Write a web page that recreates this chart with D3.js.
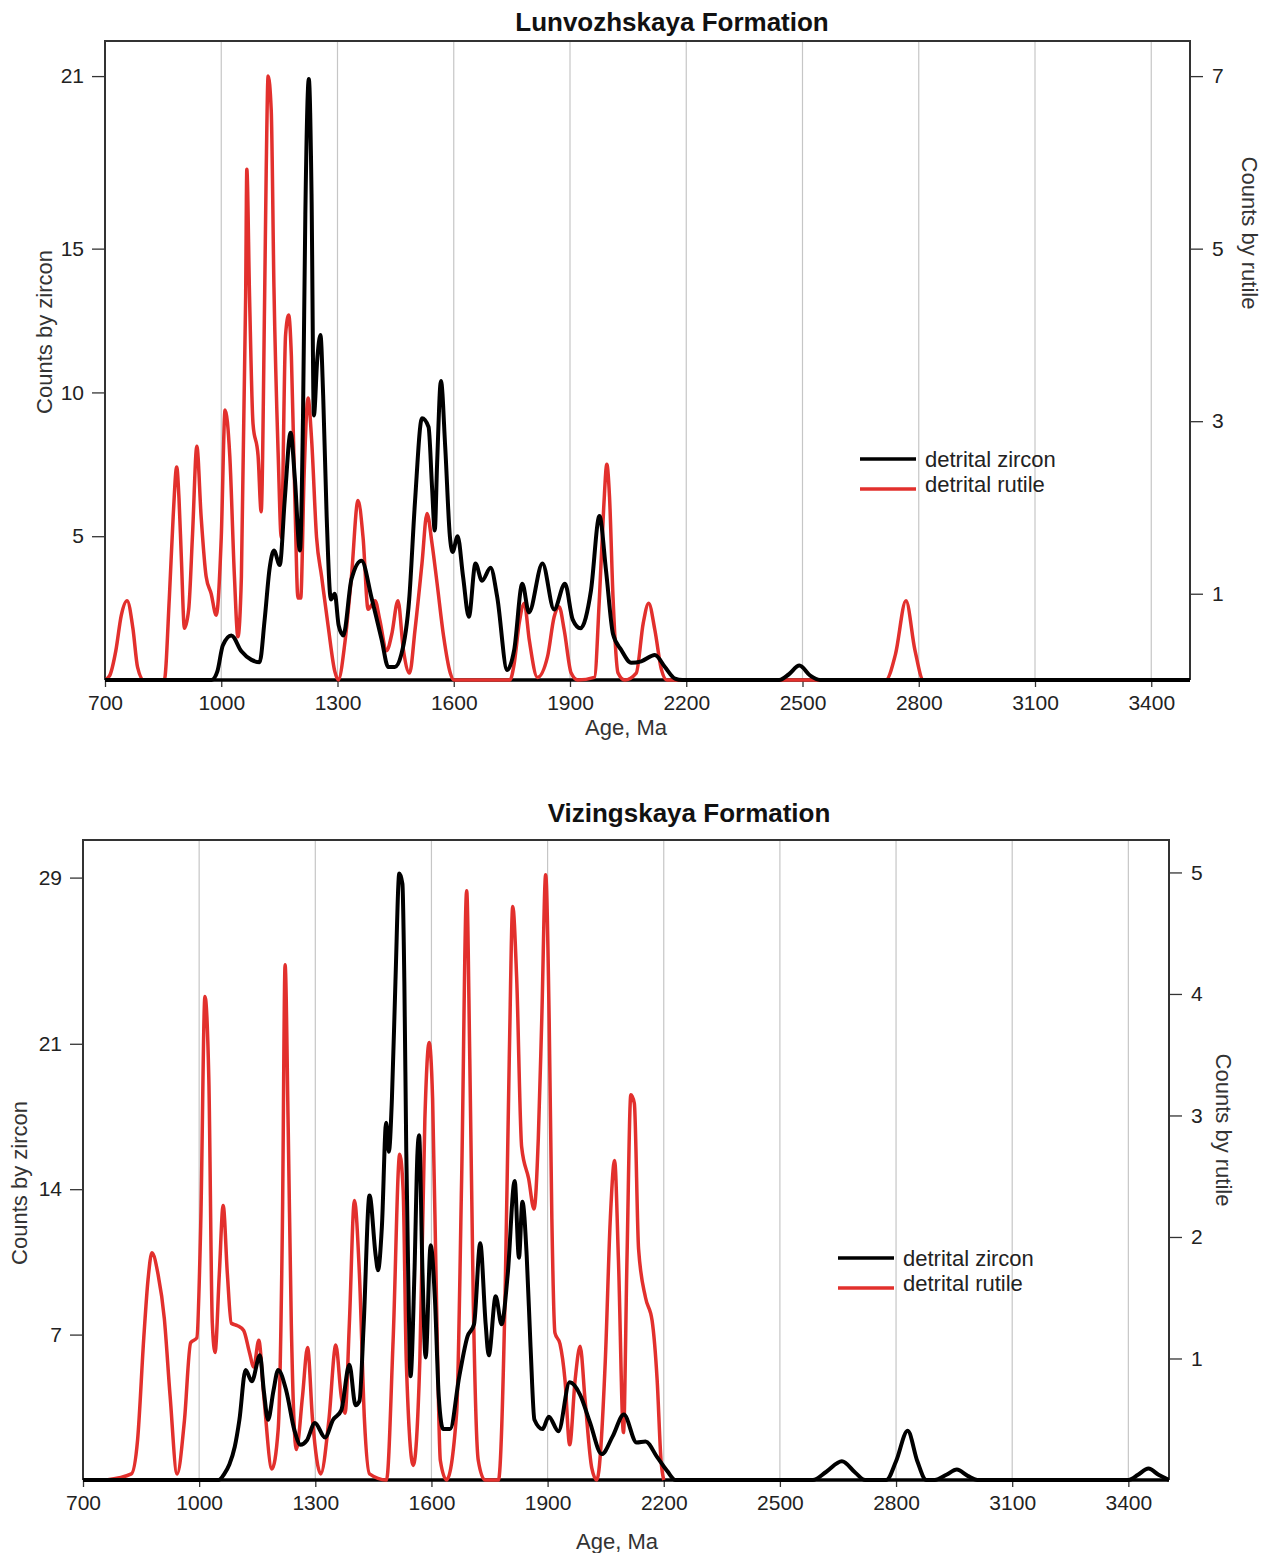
<!DOCTYPE html>
<meta charset="utf-8">
<head>
  <script src="https://d3js.org/d3.v7.min.js"></script>
  <style>
    body { margin: 0; background: #fff; }
  </style>
</head>
<body>
  <svg id="root" width="1271" height="1553"></svg>
  <script>
    // ---- data: [age (Ma), count] ----
    const lunZircon = [[700,0],[975,0],[990,0.3],[1004,1.2],[1026,1.55],[1052,1.0],[1078,0.7],[1099,0.62],[1112,2.1],[1125,3.9],[1136,4.5],[1151,4.0],[1164,6.3],[1179,8.6],[1190,7.0],[1203,4.5],[1211,9.2],[1217,16.2],[1226,20.9],[1233,16.9],[1239,9.2],[1248,11.2],[1256,12.0],[1263,9.9],[1272,5.7],[1283,2.8],[1293,3.0],[1303,1.9],[1315,1.55],[1336,3.5],[1362,4.15],[1388,2.85],[1414,1.4],[1431,0.45],[1448,0.45],[1465,0.9],[1485,2.8],[1500,6.2],[1518,9.1],[1535,8.8],[1544,6.7],[1551,5.2],[1557,7.5],[1567,10.4],[1578,8.1],[1590,5.0],[1597,4.45],[1610,5.0],[1624,3.6],[1639,2.2],[1656,4.05],[1673,3.45],[1695,3.9],[1712,2.9],[1738,0.35],[1756,1.05],[1777,3.35],[1794,2.35],[1829,4.05],[1859,2.45],[1887,3.35],[1907,2.1],[1927,1.8],[1954,3.1],[1976,5.7],[1993,3.8],[2011,1.6],[2032,1.05],[2058,0.6],[2084,0.65],[2119,0.87],[2145,0.45],[2171,0.05],[2190,0],[2440,0],[2465,0.2],[2492,0.5],[2520,0.15],[2545,0],[3500,0]];

    const lunRutile = [[700,0],[712,0.05],[728,0.34],[742,0.75],[757,0.92],[772,0.6],[784,0.15],[800,0],[853,0],[866,0.95],[876,1.9],[885,2.47],[891,2.1],[897,1.42],[905,0.6],[916,0.82],[926,1.7],[937,2.71],[948,1.9],[961,1.2],[974,1.0],[987,0.75],[1000,1.65],[1010,3.13],[1022,2.6],[1034,1.2],[1043,0.5],[1052,1.2],[1063,4.45],[1066,5.92],[1073,4.45],[1082,2.97],[1095,2.6],[1103,1.95],[1112,4.45],[1116,5.9],[1121,7.0],[1129,6.6],[1136,4.55],[1147,2.6],[1155,1.65],[1166,4.0],[1174,4.23],[1181,3.75],[1190,2.1],[1198,0.95],[1205,0.95],[1214,2.4],[1224,3.27],[1233,2.8],[1246,1.65],[1259,1.2],[1276,0.62],[1293,0.1],[1302,0],[1319,0.43],[1336,1.2],[1353,2.08],[1366,1.65],[1379,0.82],[1397,0.92],[1409,0.7],[1427,0.34],[1440,0.53],[1456,0.92],[1470,0.35],[1486,0.08],[1500,0.58],[1518,1.35],[1531,1.93],[1544,1.58],[1557,1.12],[1574,0.5],[1591,0.08],[1600,0],[1745,0],[1756,0.19],[1769,0.66],[1782,0.89],[1795,0.46],[1816,0.03],[1842,0.27],[1859,0.73],[1872,0.85],[1885,0.58],[1903,0.08],[1920,0],[1963,0.03],[1976,0.96],[1987,2.0],[1995,2.5],[2002,2.12],[2011,0.96],[2024,0.08],[2041,0],[2071,0.08],[2089,0.66],[2103,0.89],[2119,0.58],[2136,0.12],[2150,0],[2715,0],[2740,0.3],[2767,0.92],[2790,0.35],[2812,0],[2900,0]];

    const vizZircon = [[700,0],[1050,0],[1065,0.3],[1078,0.75],[1092,1.6],[1104,2.9],[1120,5.3],[1136,4.75],[1157,6.0],[1167,4.3],[1178,2.9],[1192,4.3],[1204,5.3],[1225,4.3],[1246,2.4],[1262,1.7],[1278,1.9],[1299,2.75],[1325,2.05],[1346,2.9],[1367,3.35],[1388,5.55],[1404,3.6],[1414,3.8],[1425,7.5],[1440,13.7],[1456,10.8],[1462,10.1],[1472,12.2],[1483,17.2],[1490,15.8],[1498,18.4],[1507,24.0],[1517,29.2],[1525,28.7],[1530,24.0],[1535,15.8],[1540,9.9],[1546,5.0],[1556,9.9],[1564,15.8],[1568,16.6],[1577,9.9],[1585,5.9],[1598,11.3],[1609,8.7],[1619,4.0],[1630,2.45],[1648,2.45],[1672,5.0],[1693,6.9],[1710,7.5],[1726,11.4],[1740,7.5],[1748,6.0],[1766,8.85],[1781,7.5],[1797,9.9],[1815,14.4],[1826,10.7],[1835,13.4],[1846,10.8],[1856,6.4],[1866,2.9],[1887,2.45],[1903,3.05],[1928,2.35],[1957,4.7],[1984,4.1],[2009,2.8],[2040,1.25],[2068,2.1],[2097,3.15],[2130,1.8],[2153,1.85],[2183,1.1],[2209,0.43],[2230,0],[2585,0],[2620,0.4],[2660,0.9],[2695,0.35],[2720,0],[2775,0],[2800,0.9],[2830,2.37],[2855,0.9],[2878,0],[2900,0],[2930,0.25],[2957,0.5],[2985,0.2],[3010,0],[3400,0],[3425,0.25],[3452,0.55],[3478,0.25],[3505,0]];

    const vizRutile = [[760,0],[825,0.05],[841,0.33],[857,1.17],[868,1.65],[878,1.87],[894,1.69],[910,1.33],[925,0.69],[943,0.05],[962,0.49],[978,1.13],[994,1.17],[1004,2.09],[1015,3.98],[1025,3.3],[1034,1.29],[1041,1.05],[1052,1.69],[1062,2.26],[1073,1.69],[1083,1.29],[1099,1.27],[1115,1.23],[1130,1.05],[1141,0.93],[1154,1.15],[1167,0.69],[1188,0.09],[1204,0.41],[1215,2.09],[1222,4.24],[1230,2.9],[1238,1.29],[1251,0.25],[1267,0.69],[1280,1.09],[1293,0.49],[1314,0.05],[1335,0.49],[1353,1.11],[1367,0.69],[1377,0.55],[1388,1.29],[1401,2.3],[1414,1.69],[1427,0.49],[1440,0.05],[1484,0],[1501,1.15],[1518,2.68],[1527,2.38],[1535,0.98],[1553,0.12],[1570,0.98],[1583,2.97],[1594,3.6],[1603,3.14],[1613,1.48],[1623,0.16],[1639,0],[1665,0.55],[1678,2.48],[1691,4.85],[1699,3.47],[1708,1.48],[1721,0.16],[1738,0],[1773,0],[1790,1.48],[1801,3.47],[1810,4.72],[1820,4.14],[1833,2.74],[1851,2.48],[1865,2.23],[1876,2.81],[1885,3.8],[1895,4.98],[1904,3.8],[1911,2.15],[1919,1.21],[1932,1.12],[1945,0.82],[1957,0.29],[1971,0.82],[1984,1.1],[1997,0.65],[2014,0.1],[2027,0],[2049,0.98],[2062,2.15],[2073,2.63],[2083,1.81],[2096,0.39],[2105,1.81],[2115,3.17],[2124,3.1],[2135,1.9],[2153,1.5],[2170,1.31],[2183,0.82],[2193,0.16],[2200,0]];

    const ageTicks = [700, 1000, 1300, 1600, 1900, 2200, 2500, 2800, 3100, 3400];
    const gridAges = [1000, 1300, 1600, 1900, 2200, 2500, 2800, 3100, 3400];
    const lunZirconTicks = [5, 10, 15, 21];
    const lunRutileTicks = [1, 3, 5, 7];
    const vizZirconTicks = [7, 14, 21, 29];
    const vizRutileTicks = [1, 2, 3, 4, 5];
    const legendLabels = ["detrital zircon", "detrital rutile"];

    const FONT = "'Liberation Sans', Arial, sans-serif";
    const RED = "#e2302d";
    const svg = d3.select("#root");

    function styleAxis(sel) {
      sel.select(".domain").remove();
      sel.attr("font-size", 21).attr("font-family", FONT);
      sel.selectAll("line").attr("stroke", "#333").attr("stroke-width", 1.3);
      sel.selectAll("text").attr("fill", "#222");
    }

    function drawPanel(p, i) {
      const g = svg.append("g");
      const x = d3.scaleLinear([700, p.xMax], [p.left, p.right]);
      const yZ = d3.scaleLinear([0, p.zMax], [p.bottom, p.top]);
      const yR = d3.scaleLinear([0, p.rMax], [p.bottom, p.top]);

      g.append("clipPath").attr("id", "clip" + i)
        .append("rect")
        .attr("x", p.left).attr("y", p.top - 2)
        .attr("width", p.right - p.left).attr("height", p.bottom - p.top + 4);

      // vertical grid
      g.selectAll(".grid").data(gridAges).join("line")
        .attr("x1", d => x(d)).attr("x2", d => x(d))
        .attr("y1", p.top).attr("y2", p.bottom)
        .attr("stroke", "#c6c6c6").attr("stroke-width", 1.2);

      // axes
      g.append("g").attr("transform", `translate(0,${p.bottom})`)
        .call(d3.axisBottom(x).tickValues(ageTicks).tickSize(7).tickPadding(8).tickFormat(d3.format("d")))
        .call(styleAxis);
      g.append("g").attr("transform", `translate(${p.left},0)`)
        .call(d3.axisLeft(yZ).tickValues(p.zTicks).tickSize(13).tickPadding(8).tickFormat(d3.format("d")))
        .call(styleAxis);
      g.append("g").attr("transform", `translate(${p.right},0)`)
        .call(d3.axisRight(yR).tickValues(p.rTicks).tickSize(13).tickPadding(9).tickFormat(d3.format("d")))
        .call(styleAxis);

      // frame
      g.append("path")
        .attr("d", `M${p.left},${p.bottom}V${p.top}H${p.right}V${p.bottom}`)
        .attr("fill", "none").attr("stroke", "#333").attr("stroke-width", 2);
      g.append("line")
        .attr("x1", p.left).attr("x2", p.right)
        .attr("y1", p.bottom).attr("y2", p.bottom)
        .attr("stroke", "#000").attr("stroke-width", 3.5);

      // curves
      const lineR = d3.line().x(d => x(d[0])).y(d => yR(d[1])).curve(d3.curveMonotoneX);
      const lineZ = d3.line().x(d => x(d[0])).y(d => yZ(d[1])).curve(d3.curveMonotoneX);
      g.append("path").datum(p.rutile)
        .attr("clip-path", `url(#clip${i})`)
        .attr("fill", "none").attr("stroke", RED)
        .attr("stroke-width", 3.5).attr("stroke-linejoin", "round")
        .attr("d", lineR);
      g.append("path").datum(p.zircon)
        .attr("clip-path", `url(#clip${i})`)
        .attr("fill", "none").attr("stroke", "#000")
        .attr("stroke-width", 4).attr("stroke-linejoin", "round")
        .attr("d", lineZ);

      // titles
      g.append("text").attr("x", p.titleX).attr("y", p.titleY)
        .attr("text-anchor", "middle").attr("font-family", FONT)
        .attr("font-size", 26).attr("font-weight", "bold").attr("fill", "#111")
        .text(p.title);
      g.append("text").attr("x", p.ageX).attr("y", p.ageY)
        .attr("text-anchor", "middle").attr("font-family", FONT)
        .attr("font-size", 22).attr("fill", "#333")
        .text("Age, Ma");
      g.append("text")
        .attr("transform", `translate(${p.zLabX},${p.zLabY}) rotate(-90)`)
        .attr("text-anchor", "middle").attr("font-family", FONT)
        .attr("font-size", 22).attr("fill", "#333")
        .text("Counts by zircon");
      g.append("text")
        .attr("transform", `translate(${p.rLabX},${p.rLabY}) rotate(90)`)
        .attr("text-anchor", "middle").attr("font-family", FONT)
        .attr("font-size", 22).attr("fill", "#333")
        .text("Counts by rutile");

      // legend
      const lg = g.append("g").attr("transform", `translate(${p.legX},${p.legY})`);
      lg.selectAll("line").data(legendLabels).join("line")
        .attr("x1", 0).attr("x2", 56)
        .attr("y1", (d, k) => k * 30).attr("y2", (d, k) => k * 30)
        .attr("stroke", (d, k) => k ? RED : "#000").attr("stroke-width", 3.5);
      lg.selectAll("text").data(legendLabels).join("text")
        .attr("x", 65).attr("y", (d, k) => k * 25 + 8)
        .attr("font-family", FONT).attr("font-size", 22).attr("fill", "#222")
        .text(d => d);
    }

    drawPanel({
      title: "Lunvozhskaya Formation", titleX: 672, titleY: 31,
      left: 105, right: 1190, top: 41, bottom: 680, xMax: 3500,
      zMax: 22.22, rMax: 7.407, zTicks: lunZirconTicks, rTicks: lunRutileTicks,
      zircon: lunZircon, rutile: lunRutile,
      ageX: 626, ageY: 735, zLabX: 52, zLabY: 332, rLabX: 1242, rLabY: 233,
      legX: 860, legY: 459
    }, 0);

    drawPanel({
      title: "Vizingskaya Formation", titleX: 689, titleY: 822,
      left: 83, right: 1169, top: 840, bottom: 1480, xMax: 3505,
      zMax: 30.81, rMax: 5.267, zTicks: vizZirconTicks, rTicks: vizRutileTicks,
      zircon: vizZircon, rutile: vizRutile,
      ageX: 617, ageY: 1549, zLabX: 27, zLabY: 1183, rLabX: 1216, rLabY: 1130,
      legX: 838, legY: 1258
    }, 1);
  </script>
</body>
